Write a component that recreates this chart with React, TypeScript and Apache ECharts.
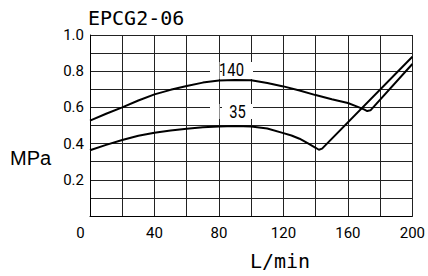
import React, { useEffect, useRef } from "react";
import * as echarts from "echarts";

// Flow (L/min) and pressure (MPa)
const flow140 = [0, 10, 20, 30, 40, 50, 60, 70, 80, 90, 100, 110, 120, 130, 140, 150, 160, 165, 170, 172, 174, 200];
const pres140 = [0.527, 0.565, 0.6, 0.638, 0.672, 0.697, 0.718, 0.737, 0.748, 0.752, 0.75, 0.735, 0.716, 0.693, 0.668, 0.645, 0.624, 0.607, 0.589, 0.58, 0.584, 0.84];

const flow35 = [0, 10, 20, 30, 40, 50, 60, 70, 80, 90, 100, 110, 120, 125, 130, 135, 140, 142, 144, 200];
const pres35 = [0.363, 0.393, 0.42, 0.443, 0.46, 0.472, 0.482, 0.49, 0.495, 0.497, 0.495, 0.483, 0.458, 0.445, 0.427, 0.402, 0.377, 0.366, 0.372, 0.88];

const xTickValues = [0, 40, 80, 120, 160, 200];
const xTickLabels = ["0", "40", "80", "120", "160", "200"];
const yTickValues = [0.2, 0.4, 0.6, 0.8, 1.0];
const yTickLabels = ["0.2", "0.4", "0.6", "0.8", "1.0"];

const seriesNames = ["140", "35"];
const titleText = "EPCG2-06";
const xName = "L/min";
const yName = "MPa";

const GL = 90, GT = 35, GW = 327, GH = 181;

function pair(xs: number[], ys: number[]) {
  return xs.map((x, i) => [x, ys[i]]);
}

export default function App() {
  const ref = useRef<HTMLDivElement>(null);
  useEffect(() => {
    if (!ref.current) return;
    const chart = echarts.init(ref.current, undefined, { renderer: "svg" });
    const labelFont = "Roboto";
    chart.setOption({
      animation: false,
      backgroundColor: "#fff",
      grid: { left: GL, top: GT, width: GW, height: GH, show: false },
      xAxis: {
        type: "value",
        min: 0,
        max: 200,
        interval: 20,
        axisLine: { show: true, lineStyle: { color: "#000", width: 1 } },
        axisTick: { show: false },
        splitLine: { show: true, lineStyle: { color: "#222", width: 1 } },
        axisLabel: {
          margin: 9,
          color: "#000",
          fontFamily: labelFont,
          fontSize: 15,
          formatter: (v: number) => {
            const i = xTickValues.findIndex((t) => Math.abs(t - v) < 1e-6);
            if (i < 0) return "";
            if (v === 0) return "{z|" + xTickLabels[i] + "}";
            return xTickLabels[i];
          },
          rich: {
            z: { padding: [0, 19, 0, 0], fontFamily: labelFont, fontSize: 15, color: "#000" },
          },
        },
      },
      yAxis: {
        type: "value",
        min: 0,
        max: 1,
        interval: 0.1,
        axisLine: { show: true, lineStyle: { color: "#000", width: 1 } },
        axisTick: { show: false },
        splitLine: { show: true, lineStyle: { color: "#222", width: 1 } },
        axisLabel: {
          margin: 6,
          color: "#000",
          fontFamily: labelFont,
          fontSize: 15,
          formatter: (v: number) => {
            const i = yTickValues.findIndex((t) => Math.abs(t - v) < 1e-6);
            return i < 0 ? "" : yTickLabels[i];
          },
        },
      },
      series: [
        {
          name: seriesNames[0],
          type: "line",
          data: pair(flow140, pres140),
          showSymbol: false,
          smooth: false,
          lineStyle: { color: "#000", width: 2 },
          z: 4,
        },
        {
          name: seriesNames[1],
          type: "line",
          data: pair(flow35, pres35),
          showSymbol: false,
          smooth: false,
          lineStyle: { color: "#000", width: 2 },
          z: 4,
        },
      ],
      graphic: [
        // masks that break the grid lines behind the curve labels
        { type: "rect", z: 2, shape: { x: 210, y: 62, width: 9.5, height: 17 }, style: { fill: "#fff" } },
        { type: "rect", z: 2, shape: { x: 222, y: 62, width: 31, height: 17 }, style: { fill: "#fff" } },
        { type: "rect", z: 2, shape: { x: 210, y: 104, width: 9.5, height: 15 }, style: { fill: "#fff" } },
        { type: "rect", z: 2, shape: { x: 222, y: 104, width: 31, height: 15 }, style: { fill: "#fff" } },
        {
          type: "text", z: 5, x: 231.5, y: 70, scaleX: 0.82,
          style: { text: seriesNames[0], font: "18px Roboto", fill: "#000", align: "center", verticalAlign: "middle" },
        },
        {
          type: "text", z: 5, x: 237.5, y: 111.5, scaleX: 0.82,
          style: { text: seriesNames[1], font: "18px Roboto", fill: "#000", align: "center", verticalAlign: "middle" },
        },
        {
          type: "text", z: 5, x: 88, y: 17.5,
          style: { text: titleText, font: "20px 'DejaVu Sans Mono'", fill: "#000", align: "left", verticalAlign: "middle" },
        },
        {
          type: "text", z: 5, x: 280, y: 260.5,
          style: { text: xName, font: "20px 'DejaVu Sans Mono'", fill: "#000", align: "center", verticalAlign: "middle" },
        },
        {
          type: "text", z: 5, x: 10, y: 158,
          style: { text: yName, font: "20px 'Liberation Sans'", fill: "#000", align: "left", verticalAlign: "middle" },
        },
      ],
    });
    return () => chart.dispose();
  }, []);
  return <div ref={ref} style={{ width: 428, height: 276, position: "absolute", left: 0, top: 0 }} />;
}
